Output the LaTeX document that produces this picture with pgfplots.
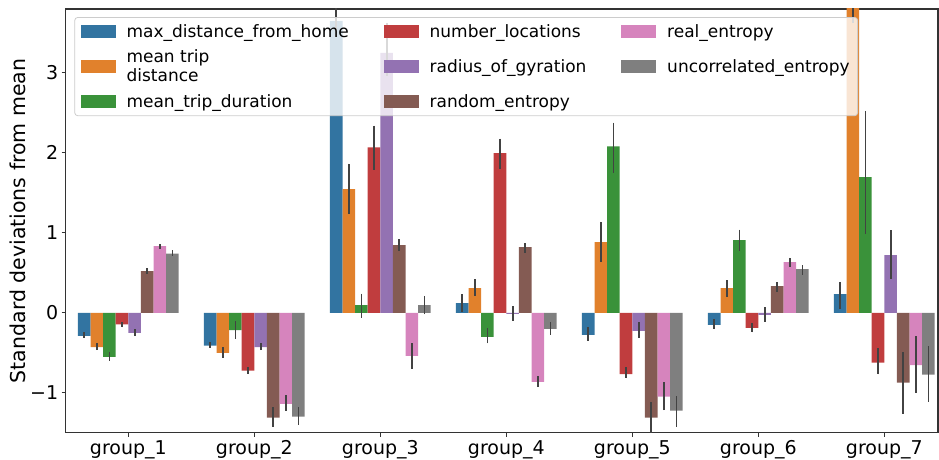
\documentclass[border=0pt]{standalone}
\usepackage{pgfplots}
\pgfplotsset{compat=1.18}
\usepackage{pgfplotstable}
\usepackage{fontspec}
\setmainfont{DejaVu Sans}

\definecolor{c1}{HTML}{3274A1}
\definecolor{c2}{HTML}{E1812C}
\definecolor{c3}{HTML}{3A923A}
\definecolor{c4}{HTML}{C03D3E}
\definecolor{c5}{HTML}{9372B2}
\definecolor{c6}{HTML}{845B53}
\definecolor{c7}{HTML}{D684BD}
\definecolor{c8}{HTML}{7F7F7F}
\definecolor{errc}{HTML}{424242}

% columns: group, value, lower CI, upper CI
\pgfplotstableread{
g y lo hi
0 -0.290 -0.310 -0.245
1 -0.410 -0.438 -0.367
2 3.650 3.450 3.950
3 0.120 0.013 0.233
4 -0.275 -0.350 -0.180
5 -0.150 -0.204 -0.083
6 0.233 0.050 0.388
}\tA
\pgfplotstableread{
g y lo hi
0 -0.429 -0.467 -0.383
1 -0.500 -0.563 -0.425
2 1.546 1.233 1.867
3 0.308 0.210 0.420
4 0.883 0.633 1.140
5 0.308 0.196 0.410
6 4.000 3.620 4.400
}\tB
\pgfplotstableread{
g y lo hi
0 -0.550 -0.600 -0.496
1 -0.217 -0.325 -0.104
2 0.096 -0.060 0.240
3 -0.300 -0.383 -0.196
4 2.083 1.750 2.380
5 0.908 0.775 1.040
6 1.696 0.980 2.525
}\tC
\pgfplotstableread{
g y lo hi
0 -0.146 -0.183 -0.113
1 -0.725 -0.767 -0.675
2 2.070 1.790 2.340
3 1.996 1.800 2.180
4 -0.767 -0.820 -0.675
5 -0.190 -0.246 -0.125
6 -0.625 -0.770 -0.438
}\tD
\pgfplotstableread{
g y lo hi
0 -0.250 -0.292 -0.208
1 -0.430 -0.467 -0.383
2 3.250 2.960 3.620
3 -0.013 -0.100 0.083
4 -0.225 -0.310 -0.110
5 -0.025 -0.110 0.067
6 0.720 0.420 1.030
}\tE
\pgfplotstableread{
g y lo hi
0 0.520 0.483 0.554
1 -1.310 -1.425 -1.180
2 0.846 0.775 0.917
3 0.820 0.754 0.867
4 -1.310 -1.550 -1.110
5 0.333 0.263 0.383
6 -0.875 -1.260 -0.490
}\tF
\pgfplotstableread{
g y lo hi
0 0.833 0.796 0.858
1 -1.140 -1.225 -1.030
2 -0.540 -0.700 -0.375
3 -0.863 -0.930 -0.790
4 -1.050 -1.220 -0.860
5 0.633 0.575 0.690
6 -0.654 -1.000 -0.290
}\tG
\pgfplotstableread{
g y lo hi
0 0.740 0.708 0.783
1 -1.300 -1.400 -1.175
2 0.096 -0.020 0.210
3 -0.200 -0.275 -0.117
4 -1.225 -1.425 -1.040
5 0.546 0.475 0.596
6 -0.775 -1.110 -0.417
}\tH

\pgfplotsset{
  barser/.style={ybar, bar width=0.1, bar shift=0pt, fill=#1, draw=none, forget plot,
    error bars/.cd, y dir=both, y explicit, error mark=none,
    error bar style={draw=errc, line width=1.8pt}},
}
\newcommand{\bars}[3]{%
  \addplot[barser=#1] table[x expr=\thisrow{g}+#2, y=y,
    y error plus expr=\thisrow{hi}-\thisrow{y},
    y error minus expr=\thisrow{y}-\thisrow{lo}] {#3};}

\begin{document}
\begin{tikzpicture}
\begin{axis}[
  name=ax,
  set layers=standard,
  scale only axis, width=872.3pt, height=423.7pt,
  xmin=-0.497, xmax=6.426, ymin=-1.5, ymax=3.8,
  xtick={0,1,2,3,4,5,6},
  xticklabels={group\_1,group\_2,group\_3,group\_4,group\_5,group\_6,group\_7},
  ytick={-1,0,1,2,3}, yticklabels={−1,0,1,2,3},
  tick align=outside, tick pos=left, major tick length=4pt,
  tick style={black!80, line width=1pt},
  axis line style={black!80, line width=1.1pt},
  ticklabel style={font=\fontsize{19}{22}\selectfont},
  ylabel={Standard deviations from mean},
  ylabel style={font=\fontsize{20.5}{24}\selectfont, at={(axis description cs:-0.0547,0.5)}, anchor=center},
  legend columns=3,
  legend cell align=left,
  legend style={at={(axis description cs:0.0099,0.981)}, anchor=north west,
    font=\fontsize{17}{19}\selectfont, fill=white, fill opacity=0.8, draw opacity=1, text opacity=1,
    draw=black!20, line width=0.8pt, rounded corners=3pt, cells={align=left},
    inner xsep=6pt, inner ysep=5pt, row sep=7pt,
    /tikz/every odd column/.append style={column sep=9pt},
    /tikz/every even column/.append style={column sep=33pt}},
  legend image code/.code={\fill[#1, fill opacity=1, sharp corners] (0pt,-6pt) rectangle (34pt,6pt);},
]
\bars{c1}{-0.35}{\tA}
\bars{c2}{-0.25}{\tB}
\bars{c3}{-0.15}{\tC}
\bars{c4}{-0.05}{\tD}
\bars{c5}{0.05}{\tE}
\bars{c6}{0.15}{\tF}
\bars{c7}{0.25}{\tG}
\bars{c8}{0.35}{\tH}
\addlegendimage{c1}\addlegendentry{max\_distance\_from\_home}
\addlegendimage{c4}\addlegendentry{number\_locations}
\addlegendimage{c7}\addlegendentry{real\_entropy}
\addlegendimage{c2}\addlegendentry{mean trip\\distance}
\addlegendimage{c5}\addlegendentry{radius\_of\_gyration}
\addlegendimage{c8}\addlegendentry{uncorrelated\_entropy}
\addlegendimage{c3}\addlegendentry{mean\_trip\_duration}
\addlegendimage{c6}\addlegendentry{random\_entropy}
\end{axis}
\pgfresetboundingbox
\path[use as bounding box] ([xshift=-65.7pt,yshift=-27.3pt]ax.south west) rectangle ([xshift=1pt,yshift=9pt]ax.north east);
\end{tikzpicture}
\end{document}
